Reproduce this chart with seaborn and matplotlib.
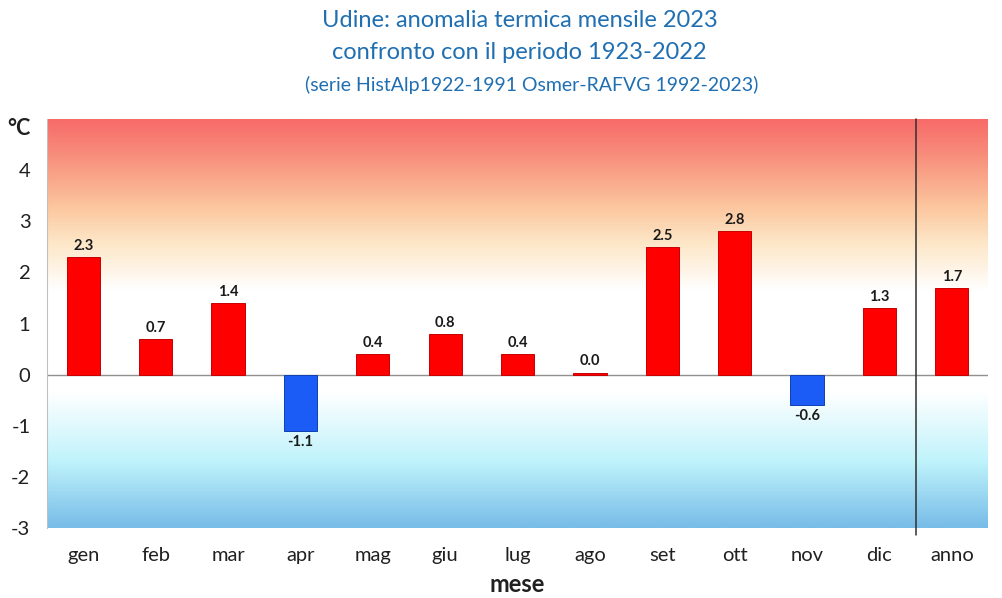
import numpy as np
import pandas as pd
import matplotlib
matplotlib.use("Agg")
import matplotlib.pyplot as plt
import matplotlib.transforms as mtransforms
import seaborn as sns
from matplotlib.colors import LinearSegmentedColormap

# monthly anomalies (degC) vs 1923-2022
months = ['gen', 'feb', 'mar', 'apr', 'mag', 'giu', 'lug', 'ago',
          'set', 'ott', 'nov', 'dic', 'anno']
anomaly = [2.3, 0.7, 1.4, -1.1, 0.4, 0.8, 0.4, 0.04, 2.5, 2.8, -0.6, 1.3, 1.7]
y_ticks = [-3, -2, -1, 0, 1, 2, 3, 4, 5]
y_labels = ['-3', '-2', '-1', '0', '1', '2', '3', '4', '°C']

df = pd.DataFrame({'mese': months, 'anomalia': anomaly})
bar_colors = {m: ('#ff0000' if v >= 0 else '#1a5cf5') for m, v in zip(months, anomaly)}

sns.set_style('white')
plt.rcParams['font.family'] = ['Lato', 'DejaVu Sans']

fig = plt.figure(figsize=(10.03, 5.98), dpi=100)
ax = fig.add_axes([0.047, 0.117, 0.938, 0.684])

# background gradient: blue at bottom, white in the middle, red at top
bg_cmap = LinearSegmentedColormap.from_list('bg', [
    (0.00, '#78bce8'),
    (0.16, '#bff3fb'),
    (0.33, '#ffffff'),
    (0.58, '#ffffff'),
    (0.70, '#fde6c6'),
    (0.79, '#fcc49c'),
    (0.90, '#f8937f'),
    (1.00, '#f76a68'),
])
grad = np.linspace(0, 1, 400).reshape(-1, 1)
ax.imshow(grad, cmap=bg_cmap, origin='lower', aspect='auto',
          extent=(-0.5, len(months) - 0.5, -3, 5), zorder=0)

sns.barplot(data=df, x='mese', y='anomalia', hue='mese', palette=bar_colors,
            legend=False, width=0.46, saturation=1, ax=ax, zorder=3,
            edgecolor='#c80000', linewidth=0.7)
for patch, v in zip(ax.patches, anomaly):
    if v < 0:
        patch.set_edgecolor('#1040b0')

for container in ax.containers:
    ax.bar_label(container, fmt='%.1f', padding=3, fontsize=10.5,
                 fontweight='bold', color='#1a1a1a')

ax.axhline(0, color='#909090', lw=1, zorder=2)
ax.axvline(11.5, ymin=-0.018, ymax=1.0, color='#303030', lw=1.1,
           zorder=4, clip_on=False)

ax.set_xlim(-0.5, len(months) - 0.5)
ax.set_ylim(-3, 5)
ax.set_yticks(y_ticks)
ax.set_yticklabels(y_labels)
ax.tick_params(axis='both', length=0, labelsize=14.5, colors='#202020')
ax.tick_params(axis='y', pad=12)
ax.tick_params(axis='x', pad=14)
unit_lbl = ax.get_yticklabels()[-1]
unit_lbl.set_fontweight('bold')
unit_lbl.set_fontsize(15.5)
unit_lbl.set_transform(unit_lbl.get_transform() +
                       mtransforms.ScaledTranslation(0, -0.07, fig.dpi_scale_trans))
ax.set_xlabel('mese', fontsize=17, fontweight='bold', color='#202020', labelpad=6)
ax.set_ylabel('')

for side in ['top', 'right', 'bottom']:
    ax.spines[side].set_visible(False)
ax.spines['left'].set_color('#c0c0c0')

title_color = '#1f6fb2'
fig.text(0.518, 0.965, 'Udine: anomalia termica mensile 2023', ha='center',
         va='center', fontsize=17, color=title_color)
fig.text(0.518, 0.912, 'confronto con il periodo 1923-2022', ha='center',
         va='center', fontsize=17, color=title_color)
fig.text(0.53, 0.858, '(serie HistAlp1922-1991 Osmer-RAFVG 1992-2023)', ha='center',
         va='center', fontsize=14, color=title_color)

fig.savefig('out.png', dpi=100)
